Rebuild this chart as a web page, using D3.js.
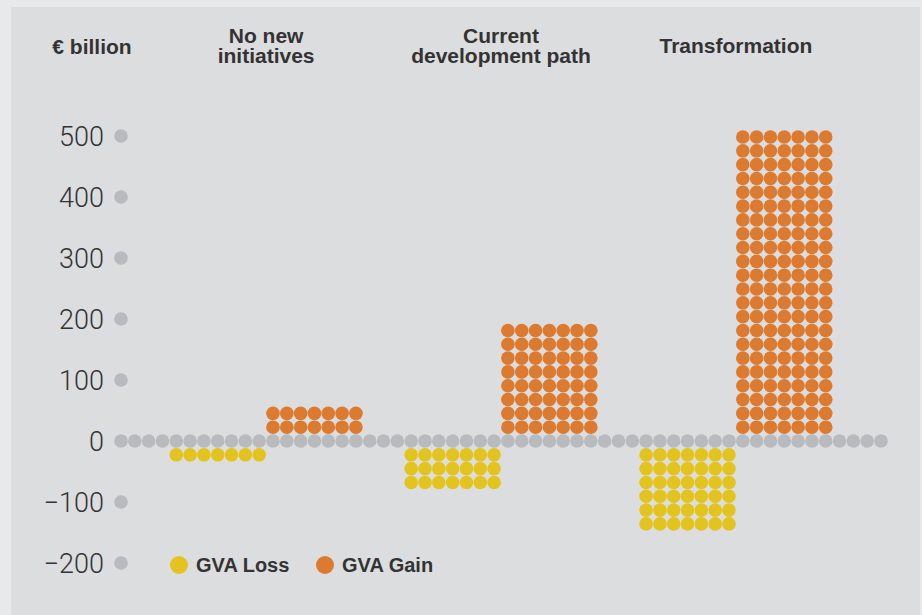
<!DOCTYPE html>
<html>
<head>
<meta charset="utf-8">
<script src="https://cdn.jsdelivr.net/npm/d3@7"></script>
<style>
  body { margin: 0; background: #e8e9eb; }
  svg { display: block; }
  .hdr { font-family: "Liberation Sans", Arial, sans-serif; font-weight: bold; font-size: 21px; fill: #333; }
  .tick { font-family: Roboto, "Liberation Sans", sans-serif; font-weight: 300; font-size: 27px; fill: #333; }
  .leg { font-family: "Liberation Sans", Arial, sans-serif; font-weight: bold; font-size: 20px; fill: #333; }
</style>
</head>
<body>
<svg id="chart"></svg>
<script>
// scenarios and GVA change, € billion
const scenarios = [["No new", "initiatives"], ["Current", "development path"], ["Transformation"]];
const gvaLoss = [-20, -65, -135];
const gvaGain = [45, 180, 500];
const yTicks = [500, 400, 300, 200, 100, 0, -100, -200];
const legendLabels = ["GVA Loss", "GVA Gain"];

const width = 922;
const height = 615;
const colors = { loss: "#e3c41f", gain: "#dc7a2f", grid: "#b9babd" };

const svg = d3.select("#chart")
    .attr("width", width)
    .attr("height", height);

// panel
svg.append("rect")
    .attr("x", 11).attr("y", 7)
    .attr("width", 909).attr("height", height - 7)
    .attr("fill", "#dcdddf");

const nCols = 56;
const x = d3.scaleLinear().domain([0, nCols - 1]).range([121, 881]);
const y = d3.scaleLinear().domain([-200, 500]).range([563, 136]);
const step = x(1) - x(0);
const dotValue = step / (y(0) - y(1)); // € billion per dot
const r = 6.8;

// baseline row of grey dots
svg.append("g").selectAll("circle")
    .data(d3.range(nCols))
    .enter().append("circle")
    .attr("cx", d => x(d))
    .attr("cy", y(0))
    .attr("r", r)
    .attr("fill", colors.grid);

// axis dots and labels
const fmt = d3.format("d");
const axis = svg.append("g");
axis.selectAll("circle")
    .data(yTicks.filter(d => d !== 0))
    .enter().append("circle")
    .attr("cx", x(0))
    .attr("cy", d => y(d))
    .attr("r", r)
    .attr("fill", colors.grid);
axis.selectAll("text")
    .data(yTicks)
    .enter().append("text")
    .attr("class", "tick")
    .attr("x", 104)
    .attr("y", d => y(d) + 10)
    .attr("text-anchor", "end")
    .text(d => fmt(d));

// dots for each bar
const dots = [];
scenarios.forEach((s, i) => {
    const start = 4 + 17 * i;
    [["loss", gvaLoss[i], start], ["gain", gvaGain[i], start + 7]].forEach(([kind, v, c0]) => {
        const rows = Math.round(Math.abs(v) / dotValue);
        const sign = v < 0 ? 1 : -1;
        for (let row = 1; row <= rows; row++) {
            for (let c = 0; c < 7; c++) {
                dots.push({ kind, cx: x(c0 + c), cy: y(0) + sign * row * step });
            }
        }
    });
});

svg.append("g").selectAll("circle")
    .data(dots)
    .enter().append("circle")
    .attr("cx", d => d.cx)
    .attr("cy", d => d.cy)
    .attr("r", r)
    .attr("fill", d => colors[d.kind]);

// headers
svg.append("text")
    .attr("class", "hdr")
    .attr("x", 92).attr("y", 54)
    .attr("text-anchor", "middle")
    .text("€ billion");

const lineH = 20;
scenarios.forEach((lines, i) => {
    const cx = x(4 + 17 * i + 6.5);
    const t = svg.append("text")
        .attr("class", "hdr")
        .attr("text-anchor", "middle");
    lines.forEach((l, j) => {
        t.append("tspan")
            .attr("x", cx)
            .attr("y", 53 - (lines.length - 1) * lineH / 2 + j * lineH)
            .text(l);
    });
});

// legend
const legend = svg.append("g")
    .selectAll("g")
    .data(legendLabels)
    .enter().append("g")
    .attr("transform", (d, i) => `translate(${179 + i * 146},${y(-200) + 2})`);
legend.append("circle")
    .attr("r", 9)
    .attr("fill", (d, i) => i === 0 ? colors.loss : colors.gain);
legend.append("text")
    .attr("class", "leg")
    .attr("x", 17)
    .attr("y", 7)
    .text(d => d);
</script>
</body>
</html>
